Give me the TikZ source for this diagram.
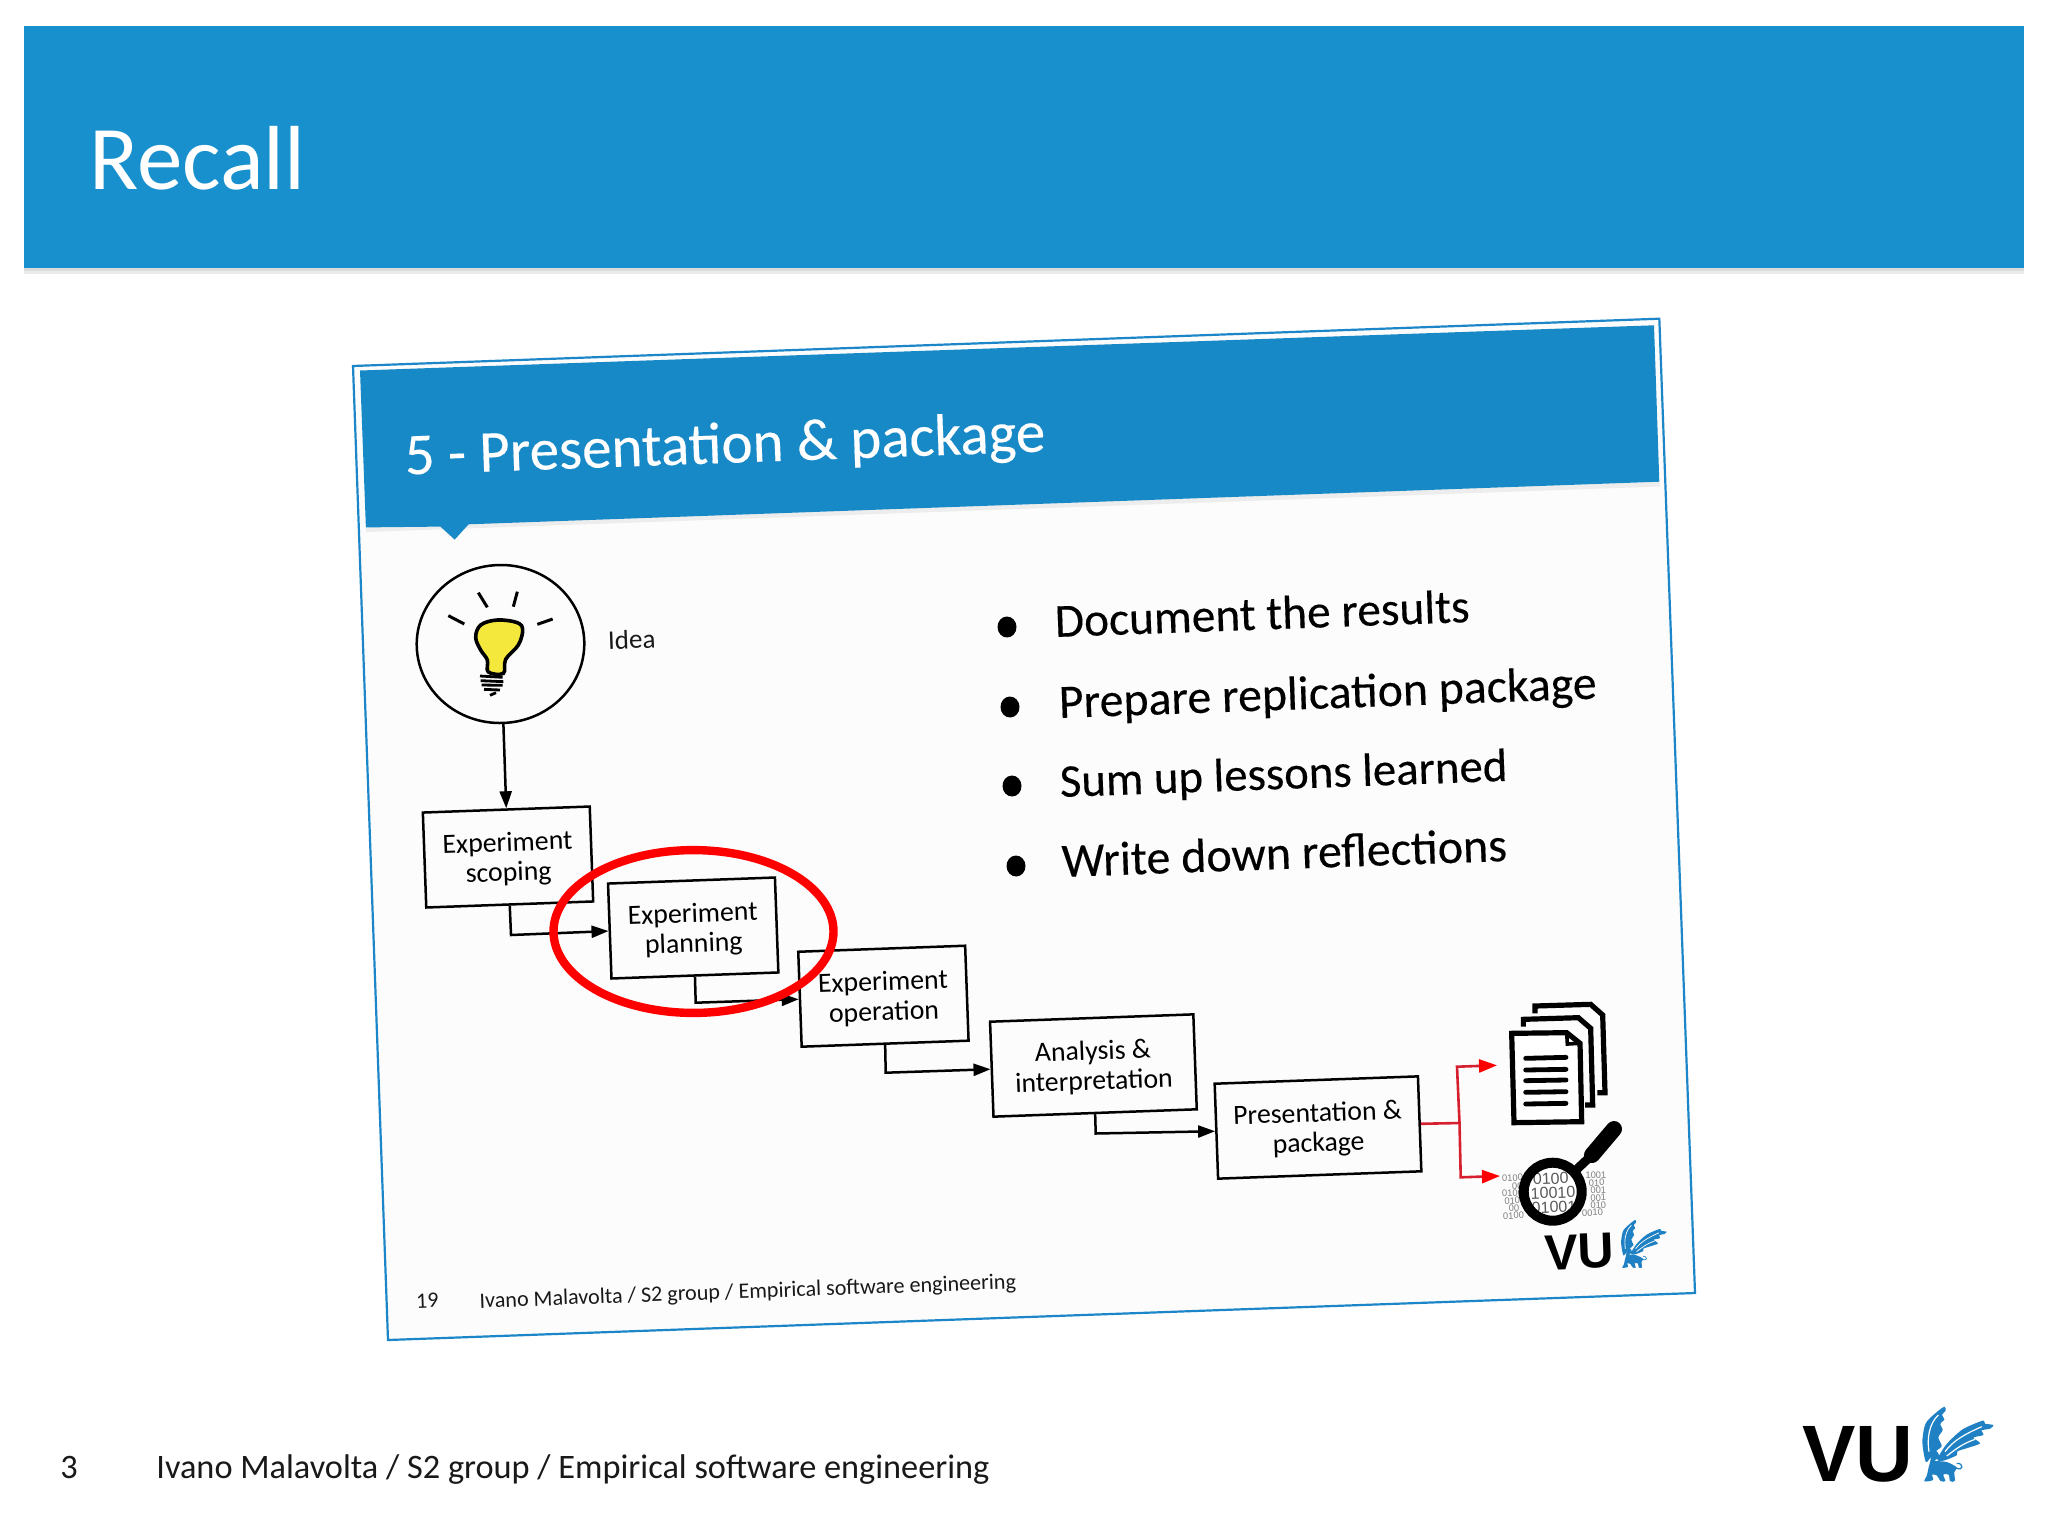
\documentclass[tikz,border=0pt]{standalone}
\usepackage{fontspec}
\setmainfont{Carlito}
\newfontfamily\heavyfont[FakeBold=0.25]{Carlito}
\newfontfamily\arialfont{Liberation Sans}
\usetikzlibrary{arrows.meta,shapes.geometric}
\definecolor{hdrblue}{RGB}{24,144,206}
\definecolor{innerblue}{RGB}{24,137,199}
\definecolor{framecol}{RGB}{28,134,200}
\definecolor{griffblue}{RGB}{31,129,196}
\definecolor{bulbyel}{RGB}{245,232,60}
\definecolor{redline}{RGB}{214,32,48}
\newcommand{\lsh}{\rule{0pt}{11.6pt}}
\newcommand{\griffinshape}[1]{%
  \fill[griffblue] plot[smooth cycle,tension=.45] coordinates {(497,245)(487,185)(497,130)(528,98)(553,80)(557,92)(546,104)(553,118)(541,132)(548,150)(535,172)(545,198)(527,214)(512,232)};
  \fill[griffblue] plot[smooth cycle,tension=.45] coordinates {(532,238)(560,192)(608,148)(668,122)(675,131)(700,135)(690,146)(665,151)(670,165)(640,173)(660,190)(622,204)(592,214)(590,226)(550,242)};
  \fill[griffblue] plot[smooth cycle,tension=.5] coordinates {(508,212)(530,214)(538,232)(524,242)(560,246)(590,262)(583,276)(584,303)(570,303)(566,284)(550,284)(556,303)(542,303)(530,286)(516,284)(519,300)(493,304)(500,288)(506,262)(512,236)};
  \draw[griffblue,line width=#1] (585,262) .. controls (612,278) and (612,248) .. (590,250);
  \draw[white,line width=#1] (507,215) .. controls (500,175) and (508,130) .. (535,105);
  \draw[white,line width=#1] (555,215) .. controls (580,180) and (620,160) .. (665,140);
  \draw[white,line width=#1] (560,228) .. controls (590,205) and (610,190) .. (645,178);
}
\tikzset{
  x=0.5pt,y=-0.5pt,
  tilt/.style={rotate=2.07},
  box/.style={tilt,draw=black,line width=1.25pt,align=center,inner sep=0pt,minimum height=47.5pt,
    font=\fontsize{13.9}{15}\selectfont,text=black},
  narrowbox/.style={box,minimum width=83.5pt},
  widebox/.style={box,minimum width=101.7pt},
  conn/.style={draw=black,line width=1.25pt,-{Triangle[length=8.5pt,width=6pt]}},
  redconn/.style={draw=redline,line width=1.3pt},
  redarrow/.style={redconn,-{Triangle[length=9pt,width=6.5pt,color=red]}},
  bullettxt/.style={tilt,anchor=base west,inner sep=0pt,text=black},
  dot/.style={tilt,ellipse,fill=black,inner sep=0pt,minimum width=9.5pt,minimum height=10.5pt},
  smallbin/.style={tilt,anchor=west,inner sep=0pt,text=black!50,font=\arialfont\fontsize{4.7}{5}\selectfont},
  bigbin/.style={tilt,inner sep=0pt,text=black!65,font=\arialfont\fontsize{8}{9}\selectfont},
}
\begin{document}
\begin{tikzpicture}
\useasboundingbox (0,0) rectangle (2048,1536);
\fill[white] (0,0) rectangle (2048,1536);
% slide header
\fill[black!8] (24,268) rectangle (2024,274);
\fill[black!14] (24,268) rectangle (2024,271);
\fill[hdrblue] (24,26) rectangle (2024,268);
\node[anchor=base west,inner sep=0pt,text=white,font=\fontsize{45.5}{48}\selectfont] (title) at (89,189) {Recall};
% footer
\node[anchor=base west,inner sep=0pt,font=\fontsize{17.15}{18}\selectfont,text=black!90] (pagenum) at (60,1478) {3};
\node[anchor=base west,inner sep=0pt,font=\fontsize{17.15}{18}\selectfont,text=black!90] (author) at (156,1478) {Ivano Malavolta / S2 group / Empirical software engineering};
% outer VU logo
\node[anchor=base west,inner sep=0pt,font=\arialfont\bfseries\fontsize{40}{42}\selectfont] (vu) at (1802,1481.7) {VU};
\begin{scope}[shift={(1760,1380)},scale=1/3]
  \griffinshape{.6pt}
\end{scope}
% screenshot frame
\draw[framecol,line width=1.1pt,fill=white!99!black] (353,366) -- (1659.3,318.7) -- (1695,1293) -- (388,1340) -- cycle;
\fill[black!7] (366,532) -- (1660,486.5) -- (1659.3,481.7) -- (365.9,527.4) -- cycle;
\fill[innerblue] (360,370.5) -- (1654,325.3) -- (1659.3,481.7) -- (468.6,524.3) -- (454.7,539.6) -- (440.4,526.6) -- (365.9,527.4) -- cycle;
\node[tilt,anchor=base west,inner sep=0pt,text=white,font=\heavyfont\fontsize{29.5}{32}\selectfont] (subtitle) at (405,474.5) {5 - Presentation \& package};
% idea
\node[tilt,ellipse,draw=black,line width=1.25pt,minimum width=83.8pt,minimum height=79pt,inner sep=0pt] (idea) at (500.5,644) {};
\begin{scope}[shift={(410,550)},scale=1/3]
  \draw[black,line width=1.8pt,fill=bulbyel] plot[smooth cycle,tension=.6] coordinates {(197,262)(212,225)(262,210)(322,218)(338,240)(325,285)(287,328)(280,370)(235,366)(232,330)(212,300)};
  \foreach \a/\b/\c/\d in {115/197/163/222, 205/128/232/172, 322/125/310/170, 382/223/428/207}
    \draw[black,line width=1.5pt] (\a,\b) -- (\c,\d);
  \foreach \a/\b/\c/\d in {210/378/278/382, 212/392/280/395, 215/405/278/406, 222/418/270/420, 240/436/258/428}
    \draw[black,line width=1.4pt] (\a,\b) -- (\c,\d);
\end{scope}
\node[tilt,anchor=base west,inner sep=0pt,font=\fontsize{13.5}{15}\selectfont,text=black!90] (idealabel) at (608,649.5) {Idea};
% boxes
\node[narrowbox] (scoping) at (508,857) {\lsh Experiment\\scoping};
\node[narrowbox] (planning) at (693.2,928) {\lsh Experiment\\planning};
\node[narrowbox] (operation) at (883.4,996.2) {\lsh Experiment\\operation};
\node[widebox] (analysis) at (1093.4,1065.5) {\lsh Analysis \&\\interpretation};
\node[widebox] (present) at (1318,1127.5) {\lsh Presentation \&\\package};
% elbows
\coordinate (e1) at (511,935);
\coordinate (e2) at (695.7,1002.7);
\coordinate (e3) at (885.7,1072.7);
\coordinate (e4) at (1095.7,1133.5);
\draw[conn] (idea.south) -- (scoping.north);
\draw[conn] (scoping.south) -- (e1) -- (planning.west);
\draw[conn] (planning.south) -- (e2) -- (operation.west);
\draw[conn] (operation.south) -- (e3) -- (analysis.west);
\draw[conn] (analysis.south) -- (e4) -- (present.west);
% red branch
\coordinate (rj) at (1459.5,1123);
\coordinate (ru) at (1457,1066.7);
\coordinate (rut) at (1497,1065.3);
\coordinate (rd) at (1460.7,1177.3);
\coordinate (rdt) at (1500,1176);
\draw[redconn] (present.east) -- (rj);
\draw[redarrow] (rj) -- (ru) -- (rut);
\draw[redarrow] (rj) -- (rd) -- (rdt);
% red ellipse
\draw[red,line width=4.2pt] (693.5,931.5) ellipse [x radius=70pt,y radius=40.7pt];
% bullets
\node[dot] (b1) at (1007,627) {};
\node[dot] (b2) at (1010,707) {};
\node[dot] (b3) at (1012,786) {};
\node[dot] (b4) at (1016,866) {};
\node[bullettxt,font=\heavyfont\fontsize{23.7}{25}\selectfont] (t1) at (1055,637) {Document the results};
\node[bullettxt,font=\heavyfont\fontsize{23.9}{25}\selectfont] (t2) at (1059,718) {Prepare replication package};
\node[bullettxt,font=\heavyfont\fontsize{23.4}{25}\selectfont] (t3) at (1060,797) {Sum up lessons learned};
\node[bullettxt,font=\heavyfont\fontsize{24}{25}\selectfont] (t4) at (1062,877) {Write down reflections};
% inner footer
\node[tilt,anchor=base west,inner sep=0pt,font=\fontsize{11}{12}\selectfont,text=black!90] (pg19) at (416,1308) {19};
\node[tilt,anchor=base west,inner sep=0pt,font=\fontsize{11.05}{12}\selectfont,text=black!90] (auth2) at (479.5,1308) {Ivano Malavolta / S2 group / Empirical software engineering};
% documents icon
\begin{scope}[shift={(1380,980)},scale=1/3,line join=miter]
  \draw[black,line width=2.6pt] (465,100) -- (465,78) -- (632,73) -- (668,105) -- (675,338) -- (652,338);
  \draw[black,line width=2.6pt] (430,140) -- (430,118) -- (595,113) -- (632,145) -- (638,375) -- (615,375);
  \draw[black,line width=2.6pt,fill=white] (395,160) -- (560,158) -- (600,190) -- (605,425) -- (402,428) -- cycle;
  \draw[black,line width=1.8pt] (560,158) -- (562,192) -- (600,190);
  \foreach \a/\b in {235/232, 270/268, 302/300, 337/335, 372/370}
    \draw[black,line width=2.4pt,line cap=round] (437,\a) -- (558,\b);
\end{scope}
% binary digits
\foreach \n/\px/\py/\s in {sa/1501.7/1178.3/0100, sb/1511.7/1186/00, sc/1501.7/1193.5/0100, sd/1504/1201/010, se/1508.3/1208.5/00, sf/1502.7/1216/0100,
  ra/1585/1175.7/1001, rb/1588.3/1183/010, rc/1590/1190.5/001, rd2/1590/1198/001, re/1590/1205.5/010, rf/1581.7/1213/0010}
  \node[smallbin] (\n) at (\px,\py) {\s};
\fill[white] (1552.7,1191.7) circle [radius=14.5pt];
\begin{scope}
  \clip (1552.7,1191.7) circle [radius=14.5pt];
  \node[bigbin] (ba) at (1550.7,1178.5) {0100};
  \node[bigbin] (bb) at (1553,1192.7) {10010};
  \node[bigbin] (bc) at (1554,1207) {01001};
\end{scope}
% magnifier
\coordinate (hs) at (1576,1170);
\coordinate (hm) at (1592,1155);
\coordinate (he) at (1614,1129);
\draw[black,line width=5pt] (1552.7,1191.7) circle [radius=14.5pt];
\draw[black,line width=4.5pt] (hs) -- (hm);
\draw[black,line width=8pt,line cap=round] (hm) -- (he);
% inner VU logo
\node[tilt,anchor=base west,inner sep=0pt,font=\arialfont\bfseries\fontsize{25}{27}\selectfont] (vu2) at (1545,1270) {VU};
\begin{scope}[shift={(1517.2,1202.9)},scale=.2133]
  \griffinshape{.35pt}
\end{scope}
\end{tikzpicture}
\end{document}
